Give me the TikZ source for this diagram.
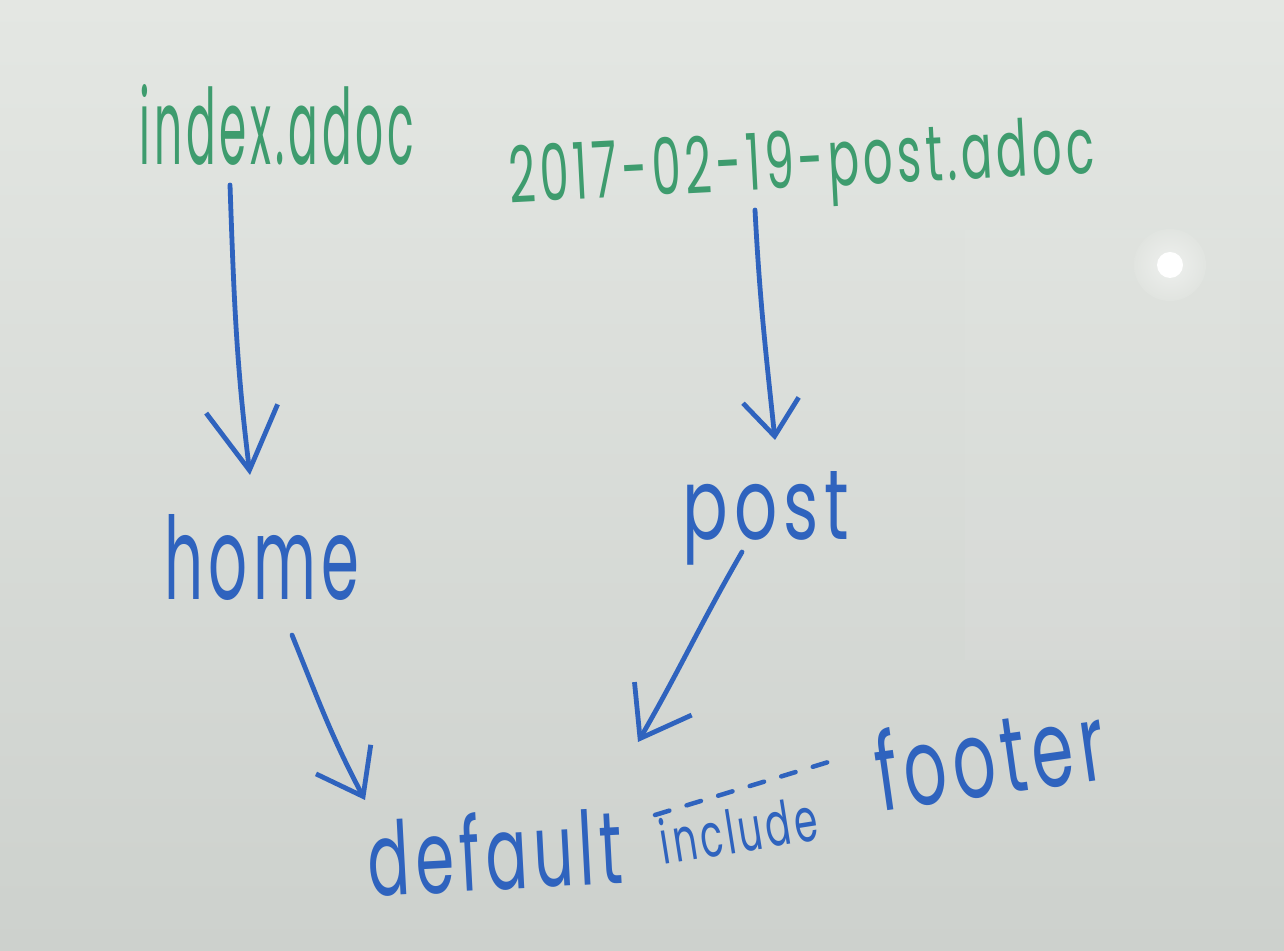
\documentclass[tikz,border=0pt]{standalone}
\usepackage{fontspec}
\setmainfont[LetterSpace=9]{Poppins}
\usetikzlibrary{arrows.meta,calc}
\definecolor{boardlight}{HTML}{E4E7E3}
\definecolor{boarddark}{HTML}{CDD1CD}
\definecolor{mgreen}{HTML}{3E9C6E}
\definecolor{mblue}{HTML}{2F63BE}
\tikzset{
  gtext/.style={text=mgreen, inner sep=0pt, anchor=base},
  btext/.style={text=mblue, inner sep=0pt, anchor=base},
  arr/.style={draw=mblue, line width=4.8pt, line cap=round, line join=round},
  dashlink/.style={draw=mblue, line width=4.5pt, line cap=round, dash pattern=on 15pt off 18pt}
}
\begin{document}
\begin{tikzpicture}[x=1pt,y=1pt]
\useasboundingbox (0,0) rectangle (1284,950);
% whiteboard
\shade[top color=boardlight, bottom color=boarddark] (0,0) rectangle (1284,950);
\fill[white, opacity=0.05] (965,290) rectangle (1240,720);
\shade[inner color=white, outer color=boardlight, opacity=0.5] (1170,685) circle (36);
\fill[white] (1170,685) circle (13);
% texts
\node[gtext] (index) at (277,785) {\resizebox{275pt}{80pt}{index.adoc}};
\node[gtext, rotate=3] (postfile) at (803,762) {\resizebox{585pt}{58pt}{2017-02-19-post.adoc}};
\node[btext] (home) at (262,350) {\resizebox{195pt}{85pt}{home}};
\node[btext] (post) at (766,410) {\resizebox{167pt}{68pt}{post}};
\node[btext, rotate=3] (default) at (497,60) {\resizebox{255pt}{78pt}{default}};
\node[btext, rotate=8] (footer) at (995,155) {\resizebox{230pt}{82pt}{footer}};
\node[btext, rotate=9] (include) at (742,98) {\resizebox{158pt}{46pt}{include}};
% arrows
\draw[arr, -{Straight Barb[length=62pt,width=72pt]}]
  ($(index.base)+(-47,-20)$) to[out=-88,in=97] ($(home.base)+(-12,125)$);
\draw[arr, -{Straight Barb[length=36pt,width=56pt]}]
  ($(postfile.base)+(-48,-22)$) to[out=-87,in=96] ($(post.base)+(9,100)$);
\draw[arr, -{Straight Barb[length=42pt,width=62pt]}]
  ($(home.base)+(30,-35)$) to[out=-68,in=118] ($(default.base)+(-132,90)$);
\draw[arr, -{Straight Barb[length=46pt,width=66pt]}]
  ($(post.base)+(-24,-12)$) to[out=-120,in=60] ($(default.base)+(141,148)$);
% include link
\draw[dashlink] ($(default.base)+(158,75)$) -- ($(footer.base)+(-160,35)$);
\end{tikzpicture}
\end{document}
